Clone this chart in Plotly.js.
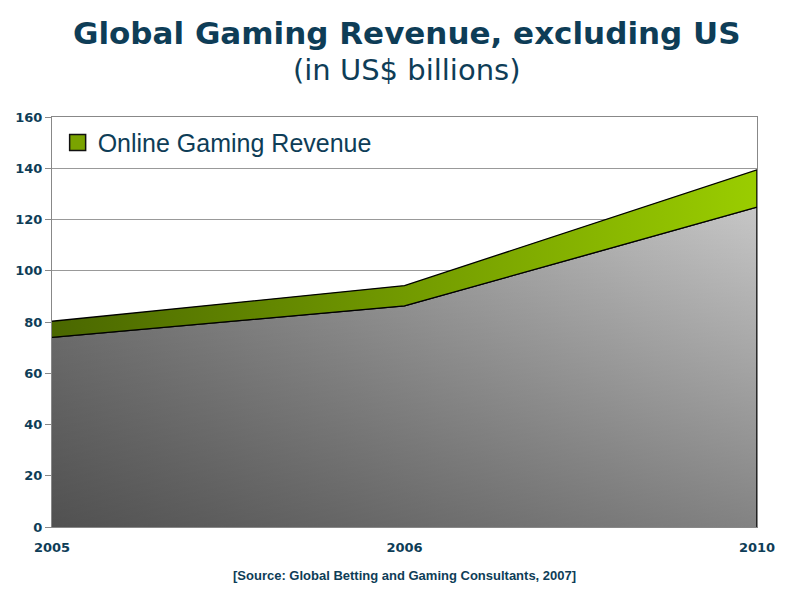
<!DOCTYPE html>
<html>
<head>
<meta charset="utf-8">
<script src="https://cdn.plot.ly/plotly-3.0.1.min.js"></script>
<style>html,body{margin:0;padding:0;background:#fff;}#chart{width:800px;height:604px;}</style>
</head>
<body>
<div id="chart"></div>
<script>
// Data
var years = ['2005', '2006', '2010'];
var landRevenue = [74, 86.3, 124.8];        // gray area (non-online gaming)
var onlineRevenue = [6.3, 7.9, 14.6];        // green band on top
var yTicks = [0, 20, 40, 60, 80, 100, 120, 140, 160];

var totals = landRevenue.map(function (v, i) { return v + onlineRevenue[i]; });
var txtColor = '#0E3D57';

var traces = [
  {
    x: years, y: landRevenue, type: 'scatter', mode: 'lines',
    fill: 'tozeroy', showlegend: false, hoverinfo: 'skip',
    line: {color: '#000', width: 1.3},
    fillgradient: {type: 'horizontal', colorscale: [[0, '#7a7a7a'], [1, '#c6c6c6']]}
  },
  {
    x: years, y: landRevenue, type: 'scatter', mode: 'lines',
    fill: 'tozeroy', showlegend: false, hoverinfo: 'skip',
    line: {color: '#000', width: 1.3},
    fillgradient: {type: 'vertical', colorscale: [[0, 'rgba(0,0,0,0.34)'], [1, 'rgba(0,0,0,0)']]}
  },
  {
    x: years, y: totals, type: 'scatter', mode: 'lines',
    fill: 'tonexty', showlegend: false, hoverinfo: 'skip',
    line: {color: '#000', width: 1.3},
    fillgradient: {type: 'horizontal', colorscale: [[0, '#4a6700'], [1, '#9acd00']]}
  },
  {
    x: [years[years.length - 1], years[years.length - 1]],
    y: [0, totals[totals.length - 1]],
    type: 'scatter', mode: 'lines', showlegend: false, hoverinfo: 'skip',
    line: {color: '#000', width: 1.5}
  },
  {
    x: [null], y: [null], type: 'scatter', mode: 'markers',
    name: 'Online Gaming Revenue', showlegend: true,
    marker: {symbol: 'square', size: 16, color: '#7aa300', line: {color: '#111', width: 1.5}}
  }
];

var plotH = 604 - 117 - 77;
function py(pixY) { return (604 - 77 - pixY) / plotH; }
var plotW = 800 - 52 - 43;
function px(pixX) { return (pixX - 52) / plotW; }

var layout = {
  width: 800, height: 604,
  margin: {l: 52, r: 43, t: 117, b: 77},
  paper_bgcolor: '#fff', plot_bgcolor: '#fff',
  showlegend: true,
  legend: {
    x: 0.008, y: 0.993, xanchor: 'left', yanchor: 'top',
    bgcolor: 'rgba(0,0,0,0)', itemwidth: 30,
    font: {family: 'Liberation Sans, Arial, sans-serif', size: 25, color: txtColor}
  },
  xaxis: {
    type: 'category', range: [0, 2],
    showgrid: false, zeroline: false,
    showline: true, linecolor: '#888', linewidth: 1, mirror: true,
    ticks: '', ticklabelstandoff: 8,
    tickfont: {family: 'DejaVu Sans, Verdana, sans-serif', size: 13, color: txtColor, weight: 'bold'}
  },
  yaxis: {
    range: [0, 160], tickvals: yTicks, ticktext: yTicks.map(String),
    showgrid: true, gridcolor: '#999', gridwidth: 1, zeroline: false,
    showline: true, linecolor: '#888', linewidth: 1, mirror: true,
    ticks: 'outside', ticklen: 6, tickcolor: '#888',
    tickfont: {family: 'DejaVu Sans, Verdana, sans-serif', size: 13, color: txtColor, weight: 'bold'}
  },
  annotations: [
    {
      text: '<b>Global Gaming Revenue, excluding US</b>',
      xref: 'paper', yref: 'paper', x: px(407), y: py(33), xanchor: 'center', yanchor: 'middle',
      showarrow: false,
      font: {family: 'DejaVu Sans, Verdana, sans-serif', size: 31, color: txtColor}
    },
    {
      text: '(in US$ billions)',
      xref: 'paper', yref: 'paper', x: px(407), y: py(70), xanchor: 'center', yanchor: 'middle',
      showarrow: false,
      font: {family: 'DejaVu Sans, Verdana, sans-serif', size: 29, color: txtColor}
    },
    {
      text: '<b>[Source: Global Betting and Gaming Consultants, 2007]</b>',
      xref: 'paper', yref: 'paper', x: px(405), y: py(575), xanchor: 'center', yanchor: 'middle',
      showarrow: false,
      font: {family: 'Liberation Sans, Arial, sans-serif', size: 13, color: txtColor}
    }
  ]
};

Plotly.newPlot('chart', traces, layout, {staticPlot: true, displayModeBar: false});
</script>
</body>
</html>
